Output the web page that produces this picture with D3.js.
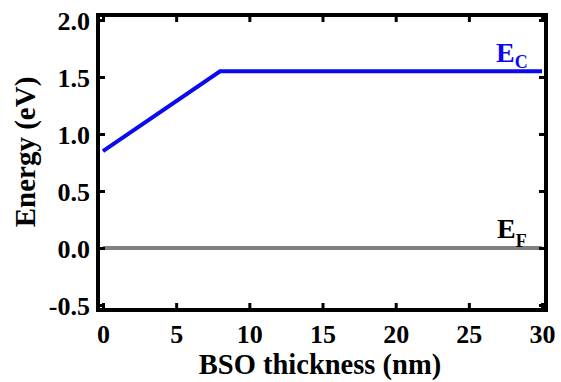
<!DOCTYPE html>
<html>
<head>
<meta charset="utf-8">
<script src="https://cdn.jsdelivr.net/npm/d3@7/dist/d3.min.js"></script>
<style>
  html, body { margin: 0; padding: 0; background: #fff; }
  svg { display: block; }
  text { font-family: "Liberation Serif", "Times New Roman", serif; font-weight: bold; }
</style>
</head>
<body>
<svg id="chart" width="561" height="382"></svg>
<script>
// Band edges across the BSO layer
const thicknessEc = [0, 8, 30];        // nm
const energyEc    = [0.85, 1.55, 1.55]; // eV, conduction band edge
const thicknessEf = [0, 30];           // nm
const energyEf    = [0, 0];            // eV, Fermi level

const xTicks = [0, 5, 10, 15, 20, 25, 30];
const yTicks = [-0.5, 0.0, 0.5, 1.0, 1.5, 2.0];
const yTickLabels = ["-0.5", "0.0", "0.5", "1.0", "1.5", "2.0"];

const svg = d3.select("#chart");
const plotLeft = 98, plotRight = 546, plotTop = 15, plotBottom = 310;
const fontFamily = "'Liberation Serif', 'Times New Roman', serif";

const x = d3.scaleLinear().domain([-0.34, 30.27]).range([plotLeft, plotRight]);
const y = d3.scaleLinear().domain([-0.544, 2.044]).range([plotBottom, plotTop]);

const line = d3.line().x(d => x(d[0])).y(d => y(d[1]));

// Fermi level
svg.append("path")
  .datum(d3.zip(thicknessEf, energyEf))
  .attr("d", line)
  .attr("fill", "none")
  .attr("stroke", "#808080")
  .attr("stroke-width", 4);

// Conduction band
svg.append("path")
  .datum(d3.zip(thicknessEc, energyEc))
  .attr("d", line)
  .attr("fill", "none")
  .attr("stroke", "#0a0af0")
  .attr("stroke-width", 4);

// Axes with inward ticks on all four sides
const tickLen = 7;
const fmtY = d => yTickLabels[yTicks.indexOf(d)];

const xb = svg.append("g").attr("transform", `translate(0,${plotBottom})`)
  .call(d3.axisBottom(x).tickValues(xTicks).tickSizeInner(-tickLen).tickSizeOuter(0).tickPadding(15));
const xt = svg.append("g").attr("transform", `translate(0,${plotTop})`)
  .call(d3.axisTop(x).tickValues(xTicks).tickSizeInner(-tickLen).tickSizeOuter(0).tickFormat(""));
const yl = svg.append("g").attr("transform", `translate(${plotLeft},0)`)
  .call(d3.axisLeft(y).tickValues(yTicks).tickSizeInner(-tickLen).tickSizeOuter(0).tickPadding(8).tickFormat(fmtY));
const yr = svg.append("g").attr("transform", `translate(${plotRight},0)`)
  .call(d3.axisRight(y).tickValues(yTicks).tickSizeInner(-tickLen).tickSizeOuter(0).tickFormat(""));

[xb, xt, yl, yr].forEach(g => {
  g.attr("font-family", fontFamily).attr("font-size", 26).attr("font-weight", "bold");
  g.select(".domain").remove();
  g.selectAll(".tick line").attr("stroke", "#000").attr("stroke-width", 3);
  g.selectAll(".tick text").attr("fill", "#000");
});
yl.selectAll(".tick text").attr("dy", "0.36em");

// Frame
svg.append("rect")
  .attr("x", plotLeft).attr("y", plotTop)
  .attr("width", plotRight - plotLeft).attr("height", plotBottom - plotTop)
  .attr("fill", "none").attr("stroke", "#000").attr("stroke-width", 4);

// Axis titles
svg.append("text")
  .attr("x", 320).attr("y", 374)
  .attr("text-anchor", "middle")
  .style("font-size", "28.5px")
  .text("BSO thickness (nm)");

svg.append("text")
  .attr("transform", "translate(35,152) rotate(-90)")
  .attr("text-anchor", "middle")
  .style("font-size", "29px")
  .text("Energy (eV)");

// Band labels
const ec = svg.append("text").attr("x", 496).attr("y", 62).attr("fill", "#0a0af0").style("font-size", "28px");
ec.append("tspan").text("E");
ec.append("tspan").attr("dy", 6).style("font-size", "18px").text("C");

const ef = svg.append("text").attr("x", 497).attr("y", 238).attr("fill", "#000").style("font-size", "28px");
ef.append("tspan").text("E");
ef.append("tspan").attr("dy", 9).style("font-size", "18px").text("F");
</script>
</body>
</html>
